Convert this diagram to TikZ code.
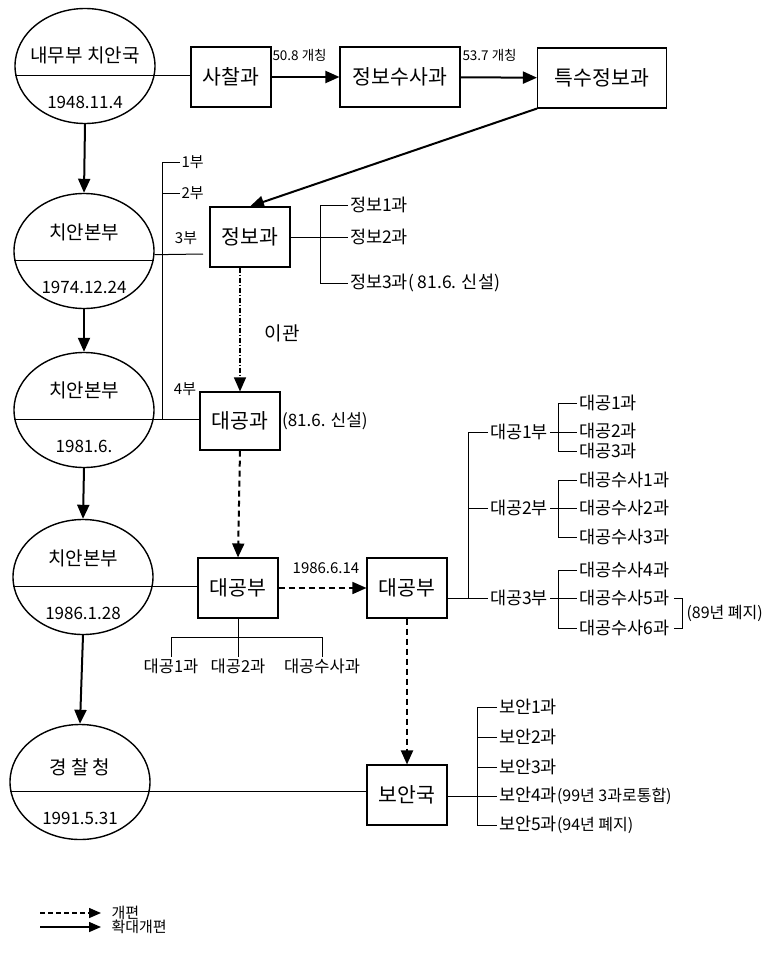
\documentclass[tikz,border=0pt]{standalone}
\usepackage{fontspec}
\setmainfont{Noto Sans CJK KR}
\usetikzlibrary{arrows.meta,shapes.geometric,positioning}
\begin{document}
\begin{tikzpicture}[x=1pt,y=-1pt,line width=1pt,
	orgnode/.style = {ellipse,draw,line width=1.4pt,minimum width=140pt,minimum height=115pt,inner sep=0pt},
	unitbox/.style = {rectangle,draw,line width=1.1pt,minimum width=80pt,minimum height=60pt,font=\fontsize{20.5}{20.5}\selectfont},
	part/.style = {anchor=west,inner sep=1.5pt,font=\fontsize{17.5}{17.5}\selectfont},
	tag/.style = {inner sep=1pt,font=\fontsize{13.5}{13.5}\selectfont},
	tri/.style = {-{Triangle[length=14pt,width=12pt]}},
	solidarrow/.style = {tri,line width=2pt},
	dasharrow/.style = {tri,line width=2pt,dash pattern=on 6pt off 4pt}]

	\useasboundingbox (0,0) rectangle (763,958);

	% organisations through the years
	\foreach \i/\x/\y/\ty/\ta/\tb in {1/85/66/55/내무부 치안국/1948.11.4,
			2/84/251/232/치안본부/1974.12.24,
			3/84/410/390/치안본부/1981.6.,
			4/83/577/558/치안본부/1986.1.28,
			5/80/782/767/경 찰 청/1991.5.31}{
		\node[orgnode] (e\i) at (\x,\y) {};
		\draw (e\i.188) -- (e\i.-8);
		\node[font=\fontsize{19}{19}\selectfont] (t\i) at (\x,\ty) {\ta};
		\node[font=\fontsize{17}{17}\selectfont] (d\i) at (\x,\y+36) {\tb};
	}
	\draw[solidarrow] (e1.south) -- (e2.north);
	\draw[solidarrow] (e2.south) -- (e3.north);
	\draw[solidarrow] (e3.south) -- (e4.north);
	\draw[solidarrow] (e4.south) -- (e5.north);

	% boxes
	\node[unitbox] (b1) at (231,77) {사찰과};
	\node[unitbox,minimum width=120pt] (b2) at (400,77) {정보수사과};
	\node[unitbox,minimum width=129pt] (b3) at (602,78) {특수정보과};
	\node[unitbox] (b4) at (250,237) {정보과};
	\node[unitbox,minimum height=58pt] (b5) at (240,421) {대공과};
	\node[unitbox] (b6) at (238,588) {대공부};
	\node[unitbox] (b7) at (407,588) {대공부};
	\node[unitbox] (b8) at (407,795) {보안국};

	\draw (e1.-8) -- (e1.-8 -| b1.west);
	\draw[solidarrow] (b1) -- (b2);
	\draw[solidarrow] (b2) -- (b3);
	\node[tag,anchor=west] (n1) at (271,55) {50.8 개칭};
	\node[tag,anchor=west] (n2) at (461,55) {53.7 개칭};
	\draw[solidarrow] (b3.south west) -- (b4.north);

	% 1부 - 4부
	\coordinate (v) at (162,162);
	\draw (v) -- (v |- e3.-8);
	\node[tag,anchor=west,font=\fontsize{15}{15}\selectfont] (h1) at (180,162) {1부};
	\node[tag,anchor=west,font=\fontsize{15}{15}\selectfont] (h2) at (180,193) {2부};
	\node[tag,font=\fontsize{15}{15}\selectfont] (h3) at (186,238) {3부};
	\node[tag,font=\fontsize{15}{15}\selectfont] (h4) at (185,389) {4부};
	\draw (v) -- (h1.west);
	\draw (v |- h2.west) -- (h2.west);
	\coordinate (k3) at (203,254);
	\draw (e2.-3) -- (k3);
	\draw (e3.-8) -- (e3.-8 -| b5.west);
	\draw (e4.-8) -- (e4.-8 -| b6.west);
	\draw (e5.-8) -- (e5.-8 -| b8.west);

	% 정보과
	\node[part] (j1) at (348,205) {정보1과};
	\node[part] (j2) at (348,237) {정보2과};
	\node[part] (j3) at (348,283) {정보3과( 81.6. 신설)};
	\draw (b4.east) -- (j2.west);
	\draw (j1.west) -- ++(-28,0) |- (j3.west);

	\draw[tri,line width=1.2pt,dash pattern=on 5pt off 2pt on 1pt off 2pt] (b5.north |- b4.south) -- (b5.north);
	\node[font=\fontsize{19}{19}\selectfont] (n3) at (282,333) {이관};
	\node[tag,anchor=west,font=\fontsize{17}{17}\selectfont] (n4) at (b5.east) {(81.6. 신설)};

	\draw[dasharrow] (b5.south) -- (b6.north);
	\draw[tri,line width=1.6pt,dash pattern=on 6pt off 4pt] (b6) -- (b7);
	\node[tag,font=\fontsize{15}{15}\selectfont] (n5) at (326,568) {1986.6.14};
	\draw[dasharrow] (b7.south) -- (b8.north);

	% 대공부 (1986.1.28)
	\node[part,anchor=north,font=\fontsize{16.5}{16.5}\selectfont] (c1) at (171,657) {대공1과};
	\node[part,anchor=north,font=\fontsize{16.5}{16.5}\selectfont] (c2) at (238,657) {대공2과};
	\node[part,anchor=north,font=\fontsize{16.5}{16.5}\selectfont] (c3) at (322,657) {대공수사과};
	\draw (b6.south) -- (c2.north);
	\draw (c1.north) -- ++(0,-20) -| (c3.north);

	% 대공부 (1986.6.14)
	\node[part] (u1) at (488,432) {대공1부};
	\node[part] (u2) at (488,508) {대공2부};
	\node[part] (u3) at (488,598) {대공3부};
	\draw (b7.east |- u3.west) -- (u3.west);
	\draw (u1.west) -| ([xshift=-20pt]u3.west);
	\draw (u2.west) -- ++(-20,0);
	\foreach \n/\y/\t in {1/403/대공1과,2/431/대공2과,3/451/대공3과,
			4/480/대공수사1과,5/508/대공수사2과,6/537/대공수사3과,
			7/570/대공수사4과,8/598/대공수사5과,9/628/대공수사6과}
		\node[part] (g\n) at (577,\y) {\t};
	\draw (u1.east) -- (u1.east -| g2.west);
	\draw (u2.east) -- (g5.west);
	\draw (u3.east) -- (g8.west);
	\draw (g1.west) -- ++(-19,0) |- (g3.west);
	\draw (g4.west) -- ++(-19,0) |- (g6.west);
	\draw (g7.west) -- ++(-19,0) |- (g9.west);
	\draw ([xshift=3pt]g8.east) -- ++(8,0) |- ([xshift=3pt]g9.east);
	\node[tag,anchor=west,font=\fontsize{16}{16}\selectfont] (n6) at (685,613) {(89년 폐지)};

	% 보안국
	\node[part] (s1) at (497,707) {보안1과};
	\node[part] (s2) at (497,737) {보안2과};
	\node[part] (s3) at (497,767) {보안3과};
	\node[part] (s4) at (497,796) {보안4과{\fontsize{16}{16}\selectfont(99년 3과로통합)}};
	\node[part] (s5) at (497,825) {보안5과{\fontsize{16}{16}\selectfont(94년 폐지)}};
	\draw (b8.east |- s4.west) -- (s4.west);
	\draw (s1.west) -- ++(-20,0) |- (s5.west);
	\draw (s2.west) -- ++(-20,0);
	\draw (s3.west) -- ++(-20,0);

	% legend
	\coordinate (l1) at (40,913);
	\coordinate (l2) at (40,927);
	\node[tag,anchor=west,font=\fontsize{15}{15}\selectfont] (m1) at (110,913) {개편};
	\node[tag,anchor=west,font=\fontsize{15}{15}\selectfont] (m2) at (110,927) {확대개편};
	\draw[-{Triangle[length=12pt,width=10pt]},line width=1.5pt,dash pattern=on 5pt off 3pt] (l1) -- ([xshift=-9pt]m1.west);
	\draw[-{Triangle[length=12pt,width=10pt]},line width=1.5pt] (l2) -- ([xshift=-9pt]m2.west);
\end{tikzpicture}
\end{document}
